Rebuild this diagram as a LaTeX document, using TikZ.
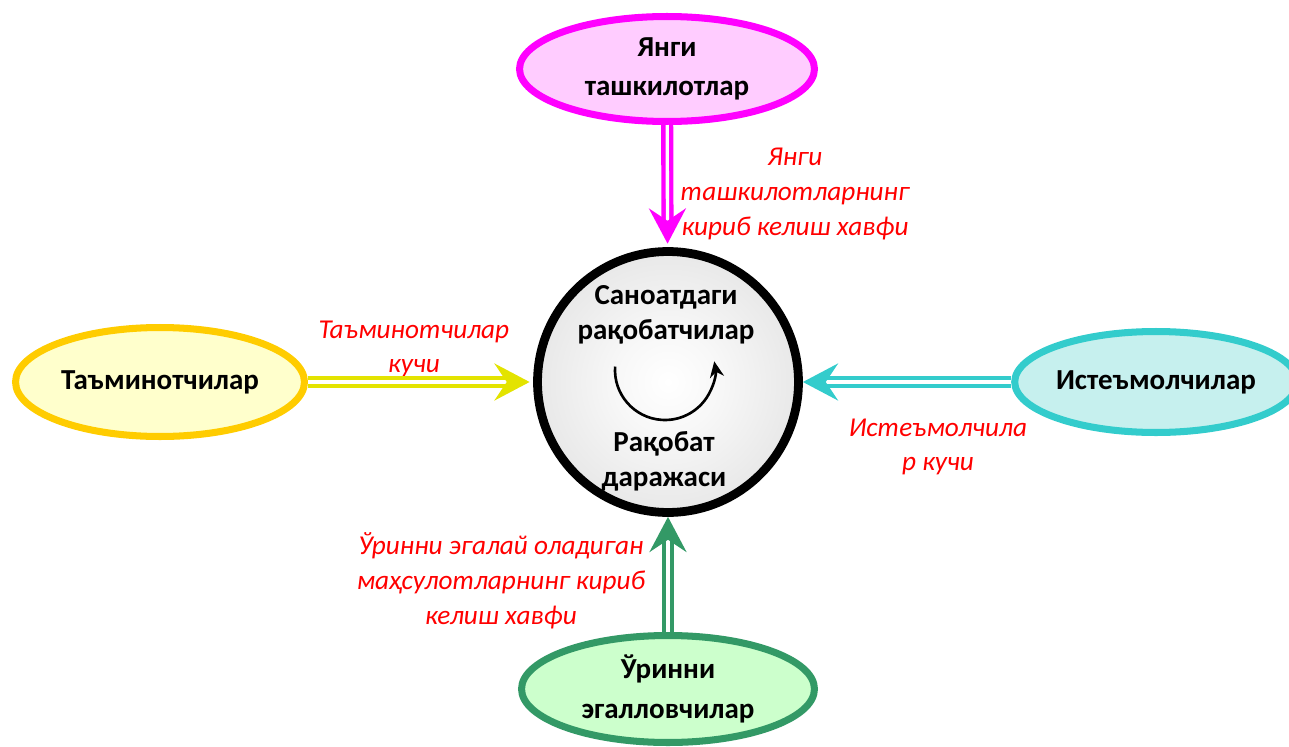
\documentclass[tikz,border=0pt]{standalone}
\usepackage{fontspec}
\setmainfont{Carlito}
\usetikzlibrary{shapes}
\usetikzlibrary{positioning}
\usetikzlibrary{arrows.meta}
\usepackage{xcolor}
\definecolor{newcoline}{HTML}{FF00FF}
\definecolor{newcofill}{HTML}{FFCCFF}
\definecolor{suppline}{HTML}{FFCC00}
\definecolor{suppfill}{HTML}{FFFFCC}
\definecolor{supparrow}{HTML}{E3E300}
\definecolor{consline}{HTML}{33CCCC}
\definecolor{consfill}{HTML}{C6F0EE}
\definecolor{substline}{HTML}{339966}
\definecolor{substfill}{HTML}{CCFFCC}
\pgfdeclareradialshading{rivalshade}{\pgfpoint{0bp}{0bp}}{color(0bp)=(white); color(10bp)=(white!97!black); color(50bp)=(black!19)}
\tikzset{
  party/.style={ellipse, draw, line width=4pt, inner sep=0pt, align=center,
    font=\fontsize{16.5}{22.5}\selectfont\bfseries},
  inner/.style={align=center, font=\fontsize{16.5}{20}\selectfont\bfseries},
  force/.style={text=red, align=center, font=\fontsize{15.5}{19.8}\selectfont\itshape},
  flow/.style={double=white, line width=2.5pt, double distance=1.9pt,
    -{Stealth[length=20pt, width=21pt, inset=7pt]}}
}

\begin{document}
\begin{tikzpicture}[x=0.02cm, y=-0.02cm]
    \useasboundingbox (0,0) rectangle (1289,747);

    \node[circle, draw, line width=5pt, shading=rivalshade, minimum size=5.22cm] (rivals) at (668,382) {};
    \node[inner] (rivtop) at (666,315) {Саноатдаги\\рақобатчилар};
    \node[inner] (rivbot) at (664,461) {Рақобат\\даражаси};
    \draw[line width=1.5pt, -{Stealth[length=9pt, width=8pt]}] (665,370) ++(184:50) arc[start angle=184, end angle=-10, radius=50];

    \node[party, draw=newcoline, fill=newcofill, minimum width=5.9cm, minimum height=2.1cm] (newco) at (667,69) {Янги\\ташкилотлар};
    \node[party, draw=suppline, fill=suppfill, minimum width=5.78cm, minimum height=2.18cm] (supp) at (160,382) {Таъминотчилар};
    \node[party, draw=consline, fill=consfill, minimum width=5.18cm, minimum height=2.02cm] (cons) at (1156,382) {Истеъмолчилар};
    \node[party, draw=substline, fill=substfill, minimum width=5.86cm, minimum height=2.14cm] (subst) at (668,689) {Ўринни\\эгалловчилар};

    \node[force] (newcolbl) at (795,194) {Янги\\ташкилотларнинг\\кириб келиш хавфи};
    \node[force] (supplbl) at (414,349) {Таъминотчилар\\кучи};
    \node[force] (conslbl) at (938,447) {Истеъмолчила\\р кучи};
    \node[force] (substlbl) at (501,581) {Ўринни эгалай оладиган\\маҳсулотларнинг кириб\\келиш хавфи};

    \draw[flow, draw=newcoline, shorten >=2pt] (newco) -- (rivals);
    \draw[flow, draw=supparrow, shorten >=2pt] (supp) -- (rivals);
    \draw[flow, draw=consline] (cons) -- (rivals);
    \draw[flow, draw=substline] (subst) -- (rivals);
\end{tikzpicture}
\end{document}
